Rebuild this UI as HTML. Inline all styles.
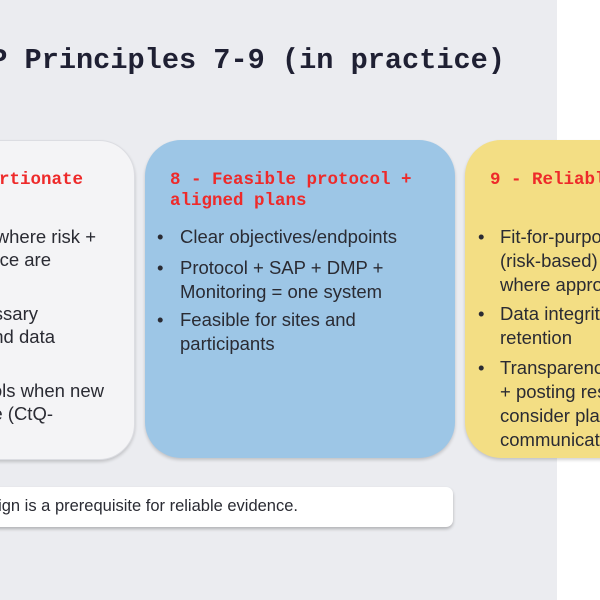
<!DOCTYPE html>
<html><head><style>
body{margin:0;width:600px;height:600px;background:#fff;position:relative;overflow:hidden}
#s{position:absolute;left:0;top:0;width:600px;height:600px;background:linear-gradient(to right,#ebecf0 557px,#ffffff 557px);overflow:hidden}
.t{position:absolute;white-space:nowrap}
.mono{font-family:"Liberation Mono",monospace;font-weight:bold}
.sans{font-family:"Liberation Sans",sans-serif;color:#2a2b33;font-size:18.5px}
.r{color:#ee2a2a;font-size:17.5px}
.card{position:absolute;top:140px;height:318px;border-radius:36px;box-shadow:0 2px 3px rgba(0,0,0,.18)}
.ln{position:absolute;white-space:nowrap;line-height:24px}
</style></head><body><div id="s">
<div class="t mono" style="right:95px;top:44px;font-size:28.6px;color:#1f2033">ICH E6 GCP Principles 7-9 (in practice)</div>

<div class="card" style="left:-200px;width:333px;background:#f4f4f6;border:1px solid #dcdde2"></div>
<div class="card" style="left:145px;width:310px;background:#9dc6e6"></div>
<div class="card" style="left:465px;width:250px;background:#f3de84"></div>

<div class="t mono r" style="right:517px;top:170px">7 - Proportionate</div>
<div class="sans">
<div class="ln" style="right:504px;top:225px">Focus where risk +</div>
<div class="ln" style="right:549px;top:248px">importance are</div>
<div class="ln" style="right:562px;top:302px">Avoid unnecessary</div>
<div class="ln" style="right:545px;top:325px">burden and data</div>
<div class="ln" style="right:496px;top:379px">Adapt controls when new</div>
<div class="ln" style="right:547px;top:402px">risks emerge (CtQ-</div>
</div>

<div class="t mono r" style="left:170px;top:170px;line-height:21px">8 - Feasible protocol +<br>aligned plans</div>
<div class="sans">
<div class="ln" style="left:157px;top:225px">•</div><div class="ln" style="left:180px;top:225px">Clear objectives/endpoints</div>
<div class="ln" style="left:157px;top:256px">•</div><div class="ln" style="left:180px;top:256px">Protocol + SAP + DMP +<br>Monitoring = one system</div>
<div class="ln" style="left:157px;top:308px">•</div><div class="ln" style="left:180px;top:308px">Feasible for sites and<br>participants</div>
</div>

<div class="t mono r" style="left:490px;top:170px">9 - Reliable evidence</div>
<div class="sans">
<div class="ln" style="left:478px;top:225px">•</div><div class="ln" style="left:500px;top:225px">Fit-for-purpose<br>(risk-based)<br>where appropriate</div>
<div class="ln" style="left:478px;top:302px">•</div><div class="ln" style="left:500px;top:302px">Data integrity +<br>retention</div>
<div class="ln" style="left:478px;top:356px">•</div><div class="ln" style="left:500px;top:356px">Transparency<br>+ posting results;<br>consider plain<br>communication</div>
</div>

<div style="position:absolute;left:-100px;top:487px;width:553px;height:40px;background:#fff;border-radius:7px;box-shadow:0 2px 3px rgba(0,0,0,.25)"></div>
<div class="t" style="right:302px;top:497px;font-family:'Liberation Sans',sans-serif;font-size:16.5px;color:#2a2b33">Quality by design is a prerequisite for reliable evidence.</div>
</div></body></html>
